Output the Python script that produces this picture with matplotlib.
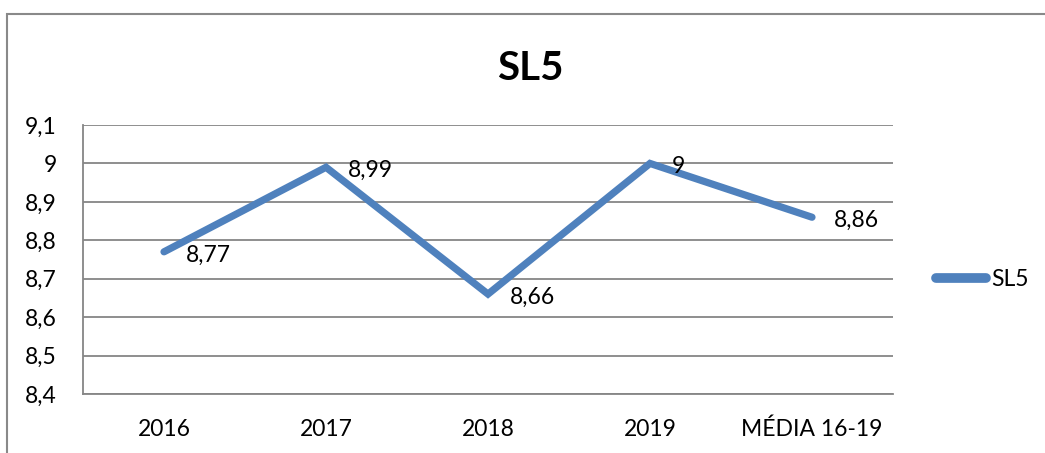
import matplotlib.pyplot as plt
from matplotlib.patches import Rectangle

plt.rcParams['font.family'] = ['Lato', 'DejaVu Sans']

categories = ['2016', '2017', '2018', '2019', 'MÉDIA 16-19']
values = [8.77, 8.99, 8.66, 9.00, 8.86]
yticks = [8.4, 8.5, 8.6, 8.7, 8.8, 8.9, 9.0, 9.1]


def fmt(v):
    # comma decimal, drop trailing zeros
    s = f'{v:.2f}'.rstrip('0').rstrip('.')
    return s.replace('.', ',')


fig = plt.figure(figsize=(10.45, 4.53), dpi=100)
ax = fig.add_axes([83 / 1045, 1 - 394 / 453, 810 / 1045, 269 / 453])

blue = '#4F81BD'
grid = '#868686'
fs = 16.5
x = range(len(categories))
ax.plot(x, values, color=blue, lw=5.2, solid_capstyle='round',
        solid_joinstyle='miter', label='SL5', zorder=3)

for xi, v in zip(x, values):
    ax.annotate(fmt(v), (xi, v), xytext=(16, -2.5), textcoords='offset points',
                ha='left', va='center', fontsize=fs, color='black', zorder=4)

ax.set_xlim(-0.5, len(categories) - 0.5)
ax.set_ylim(8.4, 9.1)
ax.set_yticks(yticks)
ax.set_yticklabels([fmt(t) for t in yticks])
ax.set_xticks(list(x))
ax.set_xticklabels(categories)
ax.tick_params(axis='both', length=0, labelsize=fs, colors='black')
ax.tick_params(axis='y', pad=19)
ax.tick_params(axis='x', pad=18)
ax.yaxis.grid(True, color=grid, lw=1.3)
ax.set_axisbelow(True)
for side in ['top', 'right']:
    ax.spines[side].set_visible(False)
for side in ['left', 'bottom']:
    ax.spines[side].set_color(grid)
    ax.spines[side].set_linewidth(1.3)

fig.text(530 / 1045, 1 - 68 / 453, 'SL5', ha='center', va='center',
         fontsize=29, fontweight='bold')

leg = fig.legend(handles=ax.get_lines(), loc='center left',
                 bbox_to_anchor=(936 / 1045, 1 - 280 / 453), frameon=False,
                 fontsize=fs, handlelength=2.2, handletextpad=0.2,
                 borderaxespad=0, borderpad=0)
for h in leg.get_lines():
    h.set_linewidth(7)
    h.set_solid_capstyle('round')

# chart border
fig.patches.append(Rectangle((6.5 / 1045, -0.05), 1.1, 1 - 13.5 / 453 + 0.05,
                             transform=fig.transFigure, fill=False,
                             edgecolor='#898989', lw=1.5))

fig.savefig('out.png', dpi=100)
